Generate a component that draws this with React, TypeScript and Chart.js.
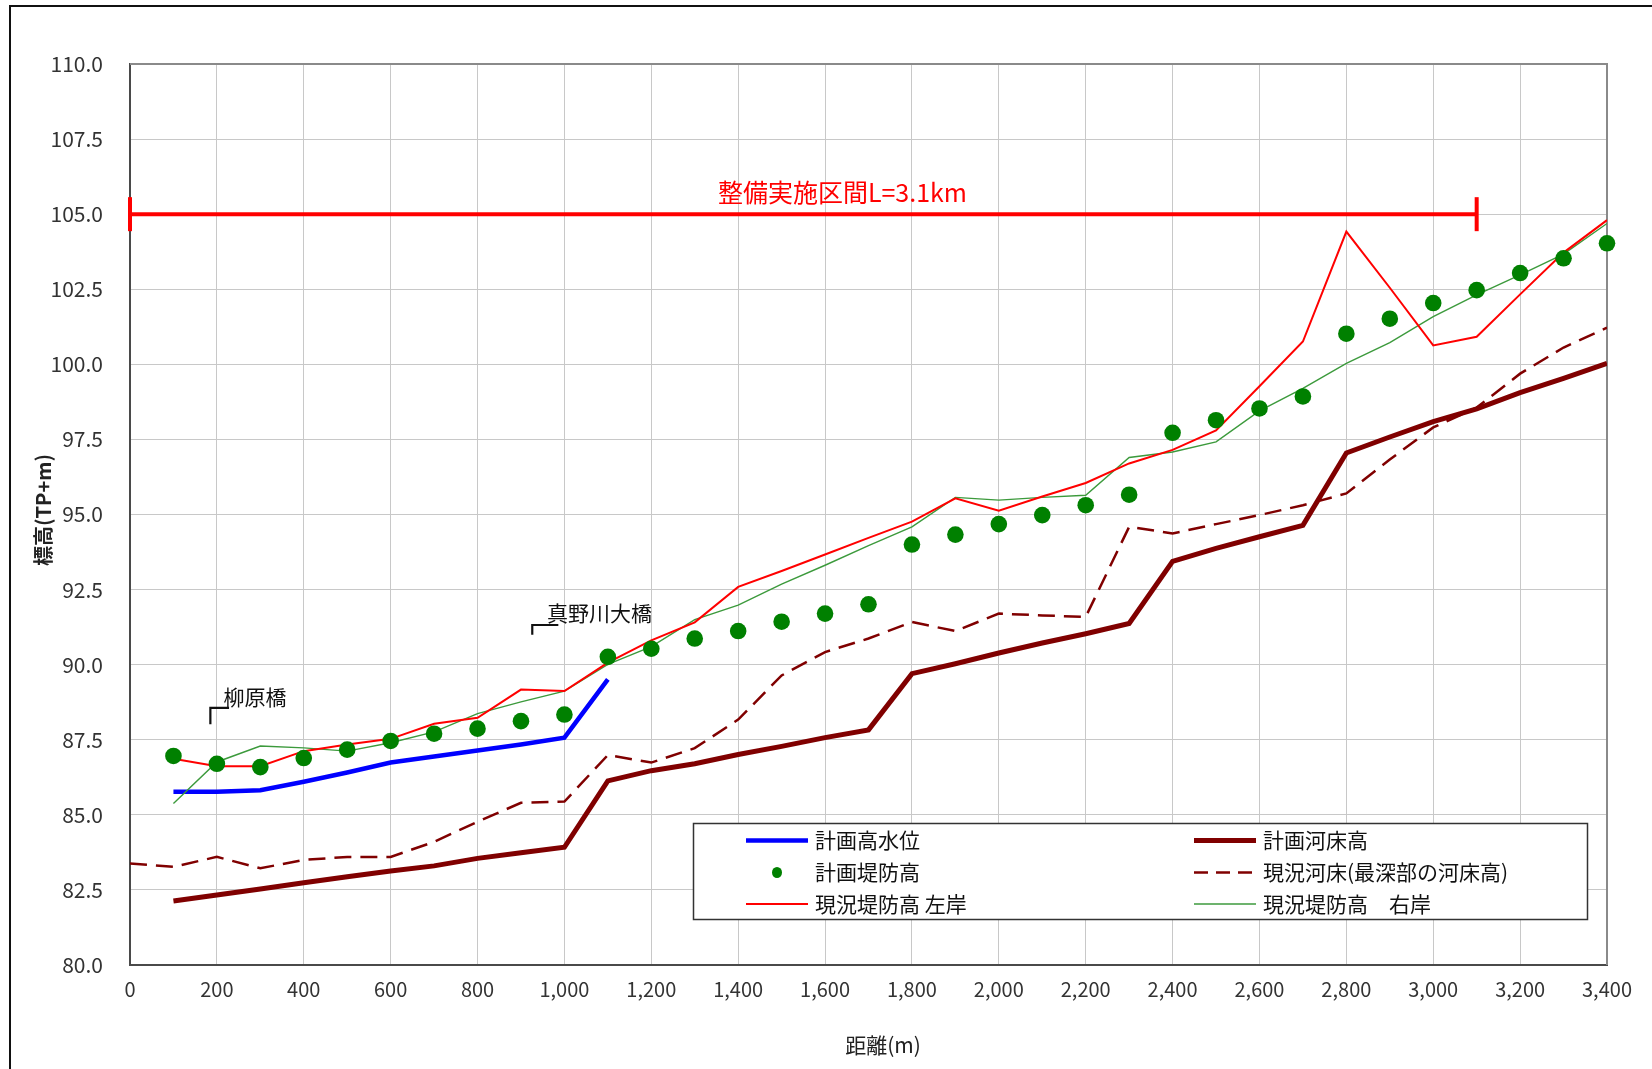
import { useEffect, useRef } from 'react';
import { Chart, registerables } from 'chart.js';

Chart.register(...registerables);

const FONT = "'Noto Sans CJK JP', 'Noto Sans', sans-serif";

// distances (m)
const distances = [100, 200, 300, 400, 500, 600, 700, 800, 900, 1000, 1100, 1200, 1300, 1400, 1500, 1600, 1700, 1800, 1900, 2000, 2100, 2200, 2300, 2400, 2500, 2600, 2700, 2800, 2900, 3000, 3100, 3200, 3300, 3400];
const hwlDistances = [100, 200, 300, 400, 500, 600, 700, 800, 900, 1000, 1100];
const curBedDistances = [0, 100, 200, 300, 400, 500, 600, 700, 800, 900, 1000, 1100, 1200, 1300, 1400, 1500, 1600, 1700, 1800, 1900, 2000, 2100, 2200, 2300, 2400, 2500, 2600, 2700, 2800, 2900, 3000, 3100, 3200, 3300, 3400];

// 計画高水位
const planHWL = [85.77, 85.77, 85.82, 86.1, 86.41, 86.74, 86.94, 87.14, 87.34, 87.57, 89.51];
// 計画堤防高
const planDike = [86.96, 86.7, 86.59, 86.89, 87.17, 87.46, 87.7, 87.87, 88.12, 88.34, 90.26, 90.53, 90.87, 91.12, 91.43, 91.7, 92.01, 94.0, 94.33, 94.68, 94.98, 95.31, 95.66, 97.72, 98.14, 98.53, 98.93, 101.02, 101.52, 102.04, 102.47, 103.04, 103.53, 104.03];
// 現況堤防高 左岸
const curLeftBank = [86.87, 86.62, 86.62, 87.12, 87.34, 87.53, 88.03, 88.23, 89.17, 89.12, 90.07, 90.81, 91.41, 92.59, 93.12, 93.67, 94.22, 94.76, 95.54, 95.13, 95.6, 96.05, 96.7, 97.15, 97.8, 99.27, 100.76, 104.42, 102.55, 100.63, 100.92, 102.33, 103.72, 104.8];
// 現況堤防高 右岸
const curRightBank = [85.38, 86.76, 87.29, 87.23, 87.12, 87.4, 87.76, 88.37, 88.76, 89.12, 90.01, 90.6, 91.5, 91.98, 92.68, 93.31, 93.96, 94.59, 95.57, 95.48, 95.57, 95.64, 96.9, 97.08, 97.42, 98.45, 99.2, 100.03, 100.72, 101.59, 102.31, 102.98, 103.67, 104.69];
// 計画河床高
const planBed = [82.13, 82.33, 82.53, 82.74, 82.94, 83.13, 83.3, 83.55, 83.74, 83.92, 86.13, 86.47, 86.7, 87.01, 87.28, 87.57, 87.83, 89.7, 90.03, 90.39, 90.72, 91.03, 91.37, 93.44, 93.87, 94.26, 94.64, 97.05, 97.58, 98.09, 98.52, 99.06, 99.53, 100.03];
// 現況河床(最深部の河床高)
const curBed = [83.38, 83.27, 83.6, 83.22, 83.5, 83.6, 83.6, 84.1, 84.77, 85.4, 85.44, 86.99, 86.74, 87.22, 88.17, 89.64, 90.42, 90.87, 91.42, 91.12, 91.7, 91.64, 91.59, 94.59, 94.37, 94.68, 94.98, 95.31, 95.7, 96.83, 97.9, 98.56, 99.69, 100.56, 101.22];

// 整備実施区間
const rangeX = [0, 3100];
const rangeY = [105, 105];
const rangeLabel = '整備実施区間L=3.1km';
const rangeLabelPos = { x: 1640, y: 105.73 };

// bridges
const bridge1Label = '柳原橋';
const bridge1X = [185, 185, 228];
const bridge1Y = [88.02, 88.56, 88.56];
const bridge1LabelPos = { x: 215, y: 88.92 };
const bridge2Label = '真野川大橋';
const bridge2X = [926, 926, 986];
const bridge2Y = [91.0, 91.32, 91.32];
const bridge2LabelPos = { x: 960, y: 91.72 };

const xTitle = '距離(m)';
const yTitle = '標高(TP+m)';

const legendItems = [
  { label: '計画高水位', kind: 'line', color: '#0000ff', width: 4.5, dash: [] as number[] },
  { label: '計画河床高', kind: 'line', color: '#800000', width: 5, dash: [] as number[] },
  { label: '計画堤防高', kind: 'dot', color: '#008000', width: 0, dash: [] as number[] },
  { label: '現況河床(最深部の河床高)', kind: 'line', color: '#800000', width: 2.5, dash: [14, 8] },
  { label: '現況堤防高 左岸', kind: 'line', color: '#ff0000', width: 2, dash: [] as number[] },
  { label: '現況堤防高　右岸', kind: 'line', color: '#3c9a3c', width: 1.5, dash: [] as number[] },
];

const xy = (xs: number[], ys: number[]) => xs.map((x, i) => ({ x, y: ys[i] }));

export default function App() {
  const ref = useRef<HTMLCanvasElement | null>(null);

  useEffect(() => {
    const canvas = ref.current;
    if (!canvas) return;

    const decor = {
      id: 'decor',
      beforeDraw(chart: any) {
        const { ctx, width, height } = chart;
        ctx.save();
        ctx.fillStyle = '#ffffff';
        ctx.fillRect(0, 0, width, height);
        ctx.restore();
      },
      beforeDatasetsDraw(chart: any) {
        const { ctx, chartArea } = chart;
        ctx.save();
        ctx.strokeStyle = '#8a8a8a';
        ctx.lineWidth = 2;
        ctx.beginPath();
        ctx.moveTo(chartArea.left, chartArea.top);
        ctx.lineTo(chartArea.right, chartArea.top);
        ctx.lineTo(chartArea.right, chartArea.bottom);
        ctx.stroke();
        ctx.restore();
      },
      afterDatasetsDraw(chart: any) {
        const { ctx } = chart;
        const xs = chart.scales.x;
        const ys = chart.scales.y;
        ctx.save();
        // outer frame
        ctx.fillStyle = '#111';
        ctx.fillRect(9, 5, 2, 1069);
        ctx.fillRect(9, 5, 1652, 2);

        // range label
        ctx.fillStyle = '#ff0000';
        ctx.font = `25px ${FONT}`;
        ctx.textAlign = 'center';
        ctx.textBaseline = 'middle';
        ctx.fillText(rangeLabel, xs.getPixelForValue(rangeLabelPos.x), ys.getPixelForValue(rangeLabelPos.y));

        // bridge labels
        ctx.fillStyle = '#111';
        ctx.font = `21px ${FONT}`;
        ctx.textAlign = 'left';
        ctx.fillText(bridge1Label, xs.getPixelForValue(bridge1LabelPos.x), ys.getPixelForValue(bridge1LabelPos.y));
        ctx.fillText(bridge2Label, xs.getPixelForValue(bridge2LabelPos.x), ys.getPixelForValue(bridge2LabelPos.y));

        // axis titles
        ctx.fillStyle = '#222';
        ctx.textAlign = 'center';
        ctx.font = `21px ${FONT}`;
        ctx.fillText(xTitle, 883, 1045);
        ctx.save();
        ctx.translate(43, 510);
        ctx.rotate(-Math.PI / 2);
        ctx.font = `bold 20px ${FONT}`;
        ctx.fillText(yTitle, 0, 0);
        ctx.restore();

        // legend
        const bx = 693.5, by = 823.5, bw = 894, bh = 96;
        ctx.fillStyle = '#ffffff';
        ctx.fillRect(bx, by, bw, bh);
        ctx.strokeStyle = '#333';
        ctx.lineWidth = 1.5;
        ctx.strokeRect(bx, by, bw, bh);
        const colX = [746, 1194];
        const rowY = [840.5, 872.5, 904];
        ctx.font = `21px ${FONT}`;
        ctx.textAlign = 'left';
        ctx.textBaseline = 'middle';
        legendItems.forEach((it, i) => {
          const cx = colX[i % 2];
          const cy = rowY[Math.floor(i / 2)];
          if (it.kind === 'dot') {
            ctx.fillStyle = it.color;
            ctx.beginPath();
            ctx.ellipse(cx + 31, cy, 5, 5.5, 0, 0, Math.PI * 2);
            ctx.fill();
          } else {
            ctx.strokeStyle = it.color;
            ctx.lineWidth = it.width;
            ctx.setLineDash(it.dash);
            ctx.beginPath();
            ctx.moveTo(cx, cy);
            ctx.lineTo(cx + 62, cy);
            ctx.stroke();
            ctx.setLineDash([]);
          }
          ctx.fillStyle = '#111';
          ctx.fillText(it.label, cx + 69, cy);
        });
        ctx.restore();
      },
    };

    const chart = new Chart(canvas, {
      type: 'scatter',
      data: {
        datasets: [
          {
            label: '計画堤防高',
            data: xy(distances, planDike),
            showLine: false,
            pointRadius: 8.3,
            pointBackgroundColor: '#008000',
            pointBorderWidth: 0,
            pointStyle: 'circle',
            clip: false,
          } as any,
          {
            label: '現況堤防高 左岸',
            data: xy(distances, curLeftBank),
            showLine: true,
            borderColor: '#ff0000',
            borderWidth: 2,
            pointRadius: 0,
          },
          {
            label: '現況堤防高　右岸',
            data: xy(distances, curRightBank),
            showLine: true,
            borderColor: '#3c9a3c',
            borderWidth: 1.4,
            pointRadius: 0,
          },
          {
            label: '計画高水位',
            data: xy(hwlDistances, planHWL),
            showLine: true,
            borderColor: '#0000ff',
            borderWidth: 4.5,
            pointRadius: 0,
          },
          {
            label: '計画河床高',
            data: xy(distances, planBed),
            showLine: true,
            borderColor: '#800000',
            borderWidth: 5,
            pointRadius: 0,
          },
          {
            label: '現況河床(最深部の河床高)',
            data: xy(curBedDistances, curBed),
            showLine: true,
            borderColor: '#800000',
            borderWidth: 2.5,
            borderDash: [17, 9],
            pointRadius: 0,
          },
          {
            label: '整備実施区間',
            data: xy(rangeX, rangeY),
            showLine: true,
            borderColor: '#ff0000',
            borderWidth: 4,
            pointStyle: 'line',
            rotation: 90,
            pointRadius: 17,
            pointBorderColor: '#ff0000',
            pointBorderWidth: 4,
            clip: false,
          } as any,
          {
            label: 'bridge1',
            data: xy(bridge1X, bridge1Y),
            showLine: true,
            borderColor: '#111',
            borderWidth: 2.2,
            pointRadius: 0,
          },
          {
            label: 'bridge2',
            data: xy(bridge2X, bridge2Y),
            showLine: true,
            borderColor: '#111',
            borderWidth: 2.2,
            pointRadius: 0,
          },
        ],
      },
      options: {
        animation: false,
        responsive: false,
        devicePixelRatio: 1,
        layout: { padding: { left: 0, top: 64, right: 45, bottom: 54 } },
        plugins: {
          legend: { display: false },
          tooltip: { enabled: false },
        },
        elements: { line: { tension: 0 } },
        scales: {
          x: {
            type: 'linear',
            min: 0,
            max: 3400,
            afterFit: (s: any) => { s.height = 50; },
            ticks: {
              stepSize: 200,
              autoSkip: false,
              maxRotation: 0,
              padding: 12,
              color: '#333',
              font: { family: FONT, size: 20 },
              callback: (v: any) => Number(v).toLocaleString('en-US'),
            },
            grid: { color: '#c8c8c8', lineWidth: 1, drawTicks: false },
            border: { color: '#4a4a4a', width: 2 },
          },
          y: {
            type: 'linear',
            min: 80,
            max: 110,
            afterFit: (s: any) => { s.width = 130; },
            ticks: {
              stepSize: 2.5,
              autoSkip: false,
              padding: 27,
              color: '#333',
              font: { family: FONT, size: 21 },
              callback: (v: any) => Number(v).toFixed(1),
            },
            grid: { color: '#c8c8c8', lineWidth: 1, drawTicks: false },
            border: { color: '#4a4a4a', width: 2 },
          },
        },
      } as any,
      plugins: [decor],
    });

    return () => chart.destroy();
  }, []);

  return (
    <div style={{ position: 'fixed', left: 0, top: 0, width: 1652, height: 1069, background: '#fff' }}>
      <canvas ref={ref} width={1652} height={1069} style={{ width: 1652, height: 1069, display: 'block' }} />
    </div>
  );
}
